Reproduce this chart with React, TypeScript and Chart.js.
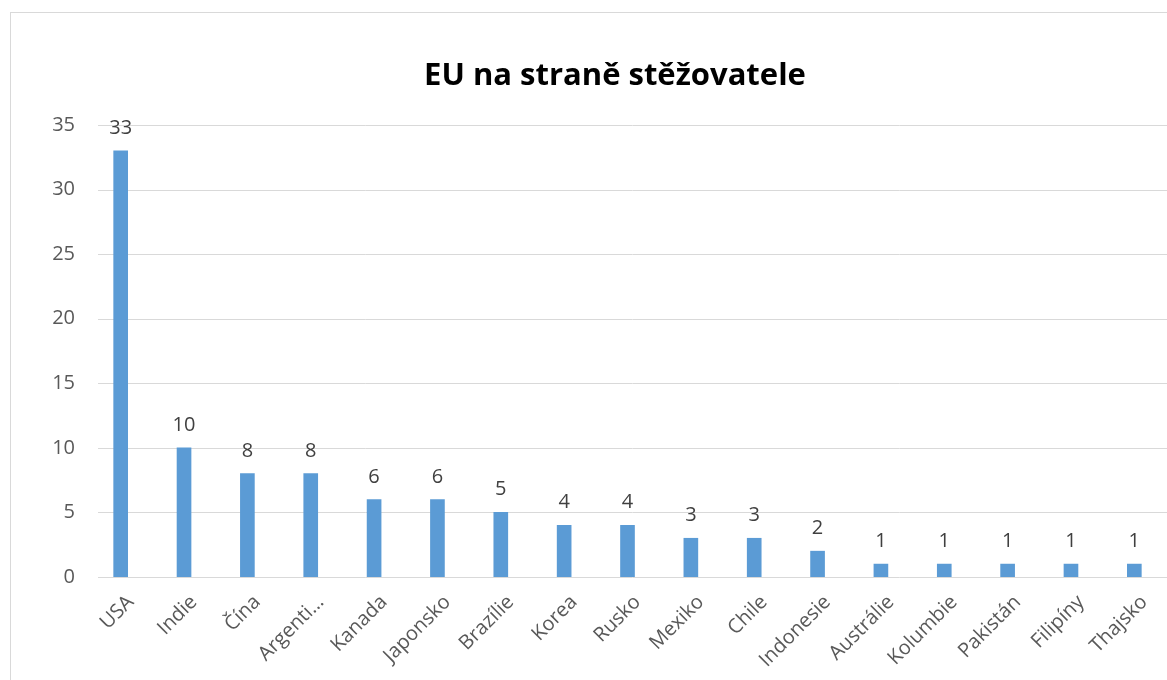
import React, { useEffect, useRef } from "react";
import { Chart, registerables } from "chart.js";

Chart.register(...registerables);

const TITLE = "EU na straně stěžovatele";
const categories = [
  "USA", "Indie", "Čína", "Argenti…", "Kanada", "Japonsko", "Brazílie", "Korea",
  "Rusko", "Mexiko", "Chile", "Indonesie", "Austrálie", "Kolumbie", "Pakistán",
  "Filipíny", "Thajsko",
];
const values = [33, 10, 8, 8, 6, 6, 5, 4, 4, 3, 3, 2, 1, 1, 1, 1, 1];
const yTicks = [0, 5, 10, 15, 20, 25, 30, 35];

const FONT = "'Open Sans', 'Noto Sans', sans-serif";
const TEXT = "#595959";

const gridLines = {
  id: "gridLines",
  beforeDatasetsDraw(chart: any) {
    const ctx = chart.ctx;
    const y = chart.scales.y;
    ctx.save();
    ctx.strokeStyle = "#D9D9D9";
    ctx.lineWidth = 1;
    yTicks.forEach((v) => {
      const py = Math.round(y.getPixelForValue(v)) + 0.5;
      ctx.beginPath();
      ctx.moveTo(98, py);
      ctx.lineTo(chart.width, py);
      ctx.stroke();
    });
    ctx.restore();
  },
};

const customText = {
  id: "customText",
  afterDatasetsDraw(chart: any) {
    const ctx = chart.ctx;
    const meta = chart.getDatasetMeta(0);
    const area = chart.chartArea;
    ctx.save();
    // title
    ctx.font = `bold 31px ${FONT}`;
    ctx.fillStyle = "#000000";
    ctx.textAlign = "center";
    ctx.textBaseline = "alphabetic";
    ctx.fillText(TITLE, 615, 85);
    // value labels
    ctx.font = `20px ${FONT}`;
    ctx.fillStyle = "#404040";
    ctx.textAlign = "center";
    ctx.textBaseline = "alphabetic";
    meta.data.forEach((bar: any, i: number) => {
      ctx.fillText(String(values[i]), bar.x, bar.y - 17);
    });
    // category labels, rotated
    ctx.font = `20px ${FONT}`;
    ctx.fillStyle = TEXT;
    ctx.textAlign = "right";
    ctx.textBaseline = "alphabetic";
    meta.data.forEach((bar: any, i: number) => {
      ctx.save();
      ctx.translate(bar.x + 14, area.bottom + 26);
      ctx.rotate(-Math.PI / 4);
      ctx.fillText(categories[i], 0, 0);
      ctx.restore();
    });
    ctx.restore();
  },
};

export default function App() {
  const ref = useRef<HTMLCanvasElement | null>(null);
  useEffect(() => {
    if (!ref.current) return;
    const chart = new Chart(ref.current, {
      type: "bar",
      data: {
        labels: categories,
        datasets: [
          {
            data: values,
            backgroundColor: "#5B9BD5",
            borderWidth: 0,
            barThickness: 14,
          },
        ],
      },
      options: {
        animation: false,
        responsive: false,
        maintainAspectRatio: false,
        layout: { padding: { top: 125, left: 0, right: 1, bottom: 0 } },
        plugins: {
          legend: { display: false },
          tooltip: { enabled: false },
          title: { display: false },
        },
        scales: {
          x: {
            offset: true,
            grid: { display: false },
            border: { display: false },
            ticks: { display: false },
            afterFit(scale: any) {
              scale.height = 103;
            },
          },
          y: {
            min: 0,
            max: 35,
            afterBuildTicks(scale: any) {
              scale.ticks = yTicks.map((v) => ({ value: v }));
            },
            grid: { display: false, drawTicks: false },
            border: { display: false },
            ticks: {
              color: TEXT,
              font: { family: FONT, size: 20 },
              padding: 14,
            },
            afterFit(scale: any) {
              scale.width = 89;
            },
          },
        },
      },
      plugins: [gridLines, customText],
    });
    return () => chart.destroy();
  }, []);

  return (
    <div style={{ position: "absolute", left: 0, top: 0, width: 1167, height: 680, background: "#fff", overflow: "hidden" }}>
      <div
        style={{
          position: "absolute",
          left: 10,
          top: 12,
          width: 1170,
          height: 700,
          border: "1px solid #D9D9D9",
          boxSizing: "border-box",
        }}
      />
      <canvas ref={ref} width={1167} height={680} style={{ position: "absolute", left: 0, top: 0 }} />
    </div>
  );
}
